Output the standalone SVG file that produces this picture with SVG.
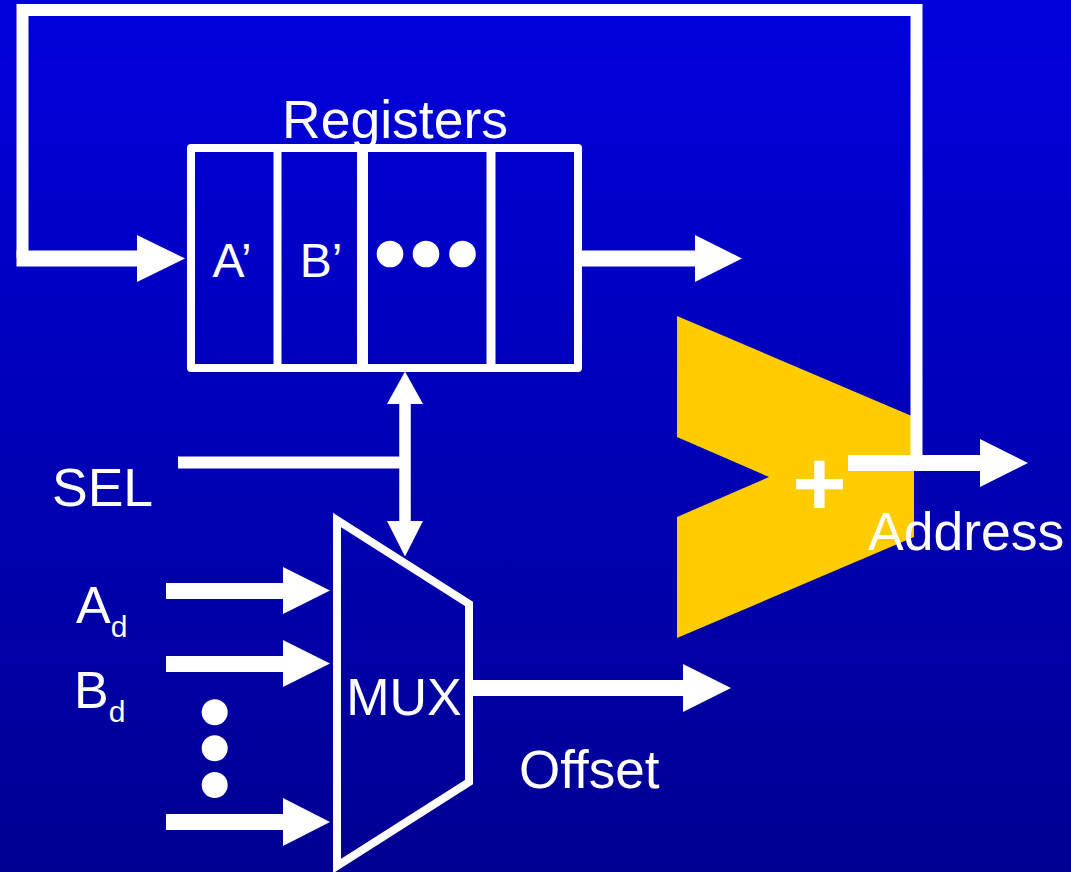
<svg xmlns="http://www.w3.org/2000/svg" width="1071" height="872" viewBox="0 0 1071 872">
  <defs>
    <linearGradient id="bg" x1="0" y1="0" x2="0" y2="1">
      <stop offset="0" stop-color="#0000DC"/>
      <stop offset="1" stop-color="#000092"/>
    </linearGradient>
    <style>
      .t { font-family: "Liberation Sans", Arial, sans-serif; fill: #FFFFFF; }
      .w { fill: none; stroke: #FFFFFF; }
      .head { fill: #FFFFFF; stroke: none; }
      .dot { fill: #FFFFFF; }
    </style>
  </defs>
  <rect x="0" y="0" width="1071" height="872" fill="url(#bg)"/>

  <g id="registers">
    <rect class="w" x="191" y="148" width="387" height="220" stroke-width="8" stroke-linejoin="round"/>
    <line class="w" x1="277.5" y1="148" x2="277.5" y2="368" stroke-width="8"/>
    <line class="w" x1="362.5" y1="148" x2="362.5" y2="368" stroke-width="11"/>
    <line class="w" x1="491" y1="148" x2="491" y2="368" stroke-width="9"/>
    <text class="t" x="395" y="138" font-size="53.5" text-anchor="middle">Registers</text>
    <text class="t" x="232" y="277" font-size="48" text-anchor="middle">A’</text>
    <text class="t" x="321" y="277" font-size="48" text-anchor="middle">B’</text>
    <circle class="dot" cx="390" cy="254" r="13.3"/>
    <circle class="dot" cx="426" cy="254" r="13.3"/>
    <circle class="dot" cx="462.5" cy="254" r="13.3"/>
  </g>

  <g id="adder">
    <polygon points="677,316 914,417 914,537 677,638 677,517 769,477 677,437" fill="#FFCC00"/>
    <text class="t" x="819.5" y="515" font-size="93" font-weight="bold" text-anchor="middle">+</text>
  </g>

  <g id="mux">
    <polygon class="w" points="337,520 469,604 469,782 337,866" stroke-width="8" stroke-linejoin="miter"/>
    <text class="t" x="404" y="715" font-size="52" text-anchor="middle">MUX</text>
  </g>

  <g id="labels">
    <text class="t" x="52" y="506" font-size="53.5">SEL</text>
    <text class="t" x="76" y="623" font-size="52">A<tspan font-size="30" dy="14">d</tspan></text>
    <text class="t" x="74" y="708" font-size="52">B<tspan font-size="30" dy="14">d</tspan></text>
    <circle class="dot" cx="214.7" cy="712.3" r="13"/>
    <circle class="dot" cx="214.7" cy="748.3" r="13"/>
    <circle class="dot" cx="214.7" cy="785" r="13"/>
    <text class="t" x="519" y="788" font-size="53">Offset</text>
    <text class="t" x="868" y="550" font-size="53.5">Address</text>
  </g>

  <g id="connectors">
    <!-- feedback loop from adder output back to register input -->
    <polyline class="w" points="916.5,463 916.5,10 22.5,10 22.5,258" stroke-width="12" stroke-linejoin="miter"/>
    <line class="w" x1="16.5" y1="258.5" x2="139" y2="258.5" stroke-width="16"/>
    <polygon class="head" points="137,235 185,258.5 137,282"/>
    <!-- register output -->
    <line class="w" x1="582" y1="258.5" x2="697" y2="258.5" stroke-width="16"/>
    <polygon class="head" points="695,235 742,258.5 695,282"/>
    <!-- adder output: Address -->
    <line class="w" x1="848" y1="463" x2="982" y2="463" stroke-width="16"/>
    <polygon class="head" points="980,439 1028,463 980,487"/>
    <!-- select: bidirectional register <-> mux -->
    <line class="w" x1="405" y1="402" x2="405" y2="523" stroke-width="11.5"/>
    <polygon class="head" points="387,404 405,371.5 423,404"/>
    <polygon class="head" points="387,521 405,556.5 423,521"/>
    <line class="w" x1="178" y1="462.5" x2="410" y2="462.5" stroke-width="12"/>
    <!-- mux inputs -->
    <line class="w" x1="166" y1="591" x2="285" y2="591" stroke-width="16"/>
    <polygon class="head" points="283,567 330,590.5 283,614"/>
    <line class="w" x1="166" y1="664" x2="285" y2="664" stroke-width="16"/>
    <polygon class="head" points="283,640 330,663.5 283,687"/>
    <line class="w" x1="166" y1="822" x2="285" y2="822" stroke-width="16"/>
    <polygon class="head" points="283,798 330,822 283,846"/>
    <!-- mux output: Offset -->
    <line class="w" x1="473" y1="688" x2="685" y2="688" stroke-width="16"/>
    <polygon class="head" points="683,664 731,688 683,712"/>
  </g>
</svg>
